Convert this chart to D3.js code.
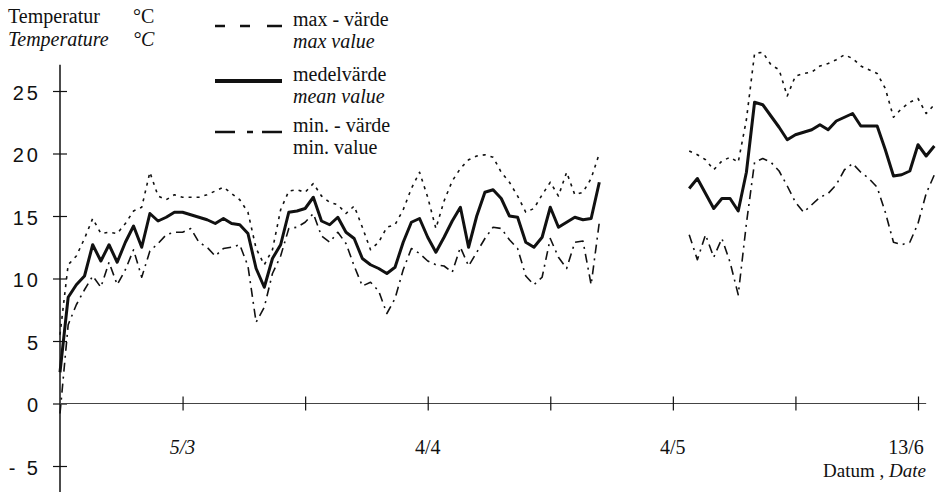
<!DOCTYPE html>
<html>
<head>
<meta charset="utf-8">
<script src="https://cdn.jsdelivr.net/npm/d3@7"></script>
<style>
  body { margin: 0; background: #fff; }
  svg { display: block; }
</style>
</head>
<body>
<svg id="chart" width="937" height="492"></svg>
<script>
// Daily air temperature, spring series. Day 0 is the first measuring day;
// null marks days without readings.
const maxValues = [
  5.5, 11.1, 11.8, 13.2, 14.8, 13.6, 13.7, 13.6, 14.4, 15.4,
  15.7, 18.5, 16.6, 16.3, 16.7, 16.5, 16.5, 16.5, 16.7, 17.0,
  17.3, 16.8, 16.3, 15.3, 12.4, 11.1, 12.3, 15.5, 17.0, 17.1,
  16.9, 17.6, 16.6, 16.1, 15.9, 15.2, 15.8, 14.1, 12.3, 12.9,
  14.1, 14.3, 15.5, 17.2, 18.5, 16.5, 14.0, 16.2, 17.8, 18.8,
  19.5, 19.8, 19.9, 19.7, 18.5, 17.7, 16.6, 15.3, 15.6, 16.7,
  17.7, 16.6, 18.5, 16.7, 16.9, 18.0, 20.0,
  null, null, null, null, null, null, null, null, null, null,
  20.2, 19.9, 19.5, 18.7, 19.4, 19.7, 19.3, 22.7, 28.0, 28.1,
  27.1, 26.7, 24.6, 26.2, 26.4, 26.5, 27.0, 27.2, 27.5, 27.9,
  27.6, 27.0, 26.7, 26.4, 25.2, 22.9, 23.6, 24.1, 24.4, 23.2,
  23.9
];

const meanValues = [
  2.5, 8.5, 9.5, 10.2, 12.7, 11.4, 12.7, 11.3, 12.9, 14.2,
  12.5, 15.2, 14.6, 14.9, 15.3, 15.3, 15.1, 14.9, 14.7, 14.4,
  14.8, 14.4, 14.3, 13.6, 10.8, 9.3, 11.6, 12.7, 15.3, 15.4,
  15.6, 16.5, 14.6, 14.3, 14.9, 13.7, 13.2, 11.6, 11.1, 10.8,
  10.4, 10.9, 12.9, 14.5, 14.8, 13.3, 12.1, 13.3, 14.6, 15.7,
  12.5, 15.0, 16.9, 17.1, 16.4, 15.0, 14.9, 12.9, 12.5, 13.3,
  15.7, 14.1, 14.5, 14.9, 14.7, 14.8, 17.7,
  null, null, null, null, null, null, null, null, null, null,
  17.2, 18.0, 16.8, 15.6, 16.4, 16.4, 15.4, 18.5, 24.1, 23.9,
  23.0, 22.1, 21.1, 21.5, 21.7, 21.9, 22.3, 21.9, 22.6, 22.9,
  23.2, 22.2, 22.2, 22.2, 20.3, 18.2, 18.3, 18.6, 20.7, 19.8,
  20.6
];

const minValues = [
  -0.8, 6.3, 7.9, 9.1, 10.2, 9.3, 11.3, 9.5, 10.7, 12.3,
  10.1, 12.2, 12.8, 13.5, 13.7, 13.7, 14.0, 12.9, 12.5, 11.8,
  12.4, 12.5, 12.7, 11.0, 6.5, 7.7, 10.4, 11.8, 14.0, 14.1,
  14.5, 15.2, 13.4, 12.9, 13.7, 12.8, 11.0, 9.4, 9.7, 9.0,
  7.2, 8.4, 10.7, 12.4, 12.0, 11.4, 11.1, 11.0, 10.5, 12.5,
  11.0, 12.1, 13.2, 14.1, 14.0, 13.1, 12.4, 10.2, 9.5, 10.1,
  13.2, 11.7, 10.8, 12.9, 13.0, 9.5, 14.5,
  null, null, null, null, null, null, null, null, null, null,
  13.5, 11.5, 13.5, 11.7, 13.2, 11.3, 8.7, 14.4, 19.3, 19.6,
  19.3, 18.6, 17.4, 16.1, 15.3, 15.9, 16.5, 16.8, 17.5, 18.7,
  19.2, 18.5, 18.0, 17.3, 15.3, 12.9, 12.7, 12.9, 14.4, 16.8,
  18.3
];

const dayTicks = [0, 15, 30, 45, 60, 75, 90, 105];
const dateLabels = [
  { day: 15, text: "5/3", italic: true },
  { day: 45, text: "4/4", italic: false },
  { day: 75, text: "4/5", italic: false },
  { day: 105, text: "13/6", italic: false }
];
const tempTicks = [-5, 0, 5, 10, 15, 20, 25];

const svg = d3.select("#chart");
const serif = "'Liberation Serif', 'Times New Roman', serif";
const sans = "'Liberation Sans', Arial, Helvetica, sans-serif";
const ink = "#111";

const x = d3.scaleLinear().domain([0, 105]).range([60, 918]);
const y = d3.scaleLinear().domain([-5, 25]).range([466, 91]);

// ---- axes -------------------------------------------------------------
// vertical axis: long spine with crossing ticks
svg.append("line")
  .attr("x1", x(0)).attr("x2", x(0))
  .attr("y1", y(27.1)).attr("y2", y(-7.2))
  .attr("stroke", ink).attr("stroke-width", 1.5);

const yAxis = svg.append("g")
  .attr("transform", `translate(${x(0)},0)`)
  .call(d3.axisLeft(y).tickValues(tempTicks).tickSize(7).tickSizeOuter(0)
    .tickFormat(d => d < 0 ? "- " + (-d) : String(d)));
yAxis.select(".domain").remove();
yAxis.selectAll(".tick line").attr("x1", 7).attr("stroke", ink).attr("stroke-width", 1.2);
yAxis.selectAll(".tick text")
  .attr("x", -19).attr("dy", "0.4em")
  .attr("fill", ink)
  .style("font-family", sans).style("font-size", "20px")
  .style("letter-spacing", "3px");

// horizontal axis along 0 °C
svg.append("line")
  .attr("x1", x(0)).attr("x2", x(106))
  .attr("y1", y(0)).attr("y2", y(0))
  .attr("stroke", "#444").attr("stroke-width", 1);

const xAxis = svg.append("g")
  .attr("transform", `translate(0,${y(0)})`)
  .call(d3.axisBottom(x).tickValues(dayTicks.slice(1)).tickSize(7).tickSizeOuter(0).tickFormat(""));
xAxis.select(".domain").remove();
xAxis.selectAll(".tick line").attr("y1", -7).attr("stroke", ink).attr("stroke-width", 1.2);

svg.selectAll("text.date")
  .data(dateLabels)
  .join("text")
  .attr("class", "date")
  .attr("x", d => d.day === 105 ? x(d.day) - 12 : x(d.day))
  .attr("y", 454)
  .attr("text-anchor", "middle")
  .attr("fill", ink)
  .style("font-family", serif).style("font-size", "20px")
  .style("font-style", d => d.italic ? "italic" : "normal")
  .text(d => d.text);

const dateTitle = svg.append("text")
  .attr("x", 926).attr("y", 477).attr("text-anchor", "end")
  .attr("fill", ink)
  .style("font-family", serif).style("font-size", "19px");
dateTitle.append("tspan").text("Datum , ");
dateTitle.append("tspan").style("font-style", "italic").text("Date");

// ---- axis title -------------------------------------------------------
const title = [
  { label: "Temperatur", unit: "°C", italic: false, y: 23 },
  { label: "Temperature", unit: "°C", italic: true, y: 46 }
];
title.forEach(t => {
  svg.append("text").attr("x", 8).attr("y", t.y).attr("fill", ink)
    .style("font-family", serif).style("font-size", "20px")
    .style("font-style", t.italic ? "italic" : "normal").text(t.label);
  svg.append("text").attr("x", 133).attr("y", t.y).attr("fill", ink)
    .style("font-family", serif).style("font-size", "20px")
    .style("font-style", t.italic ? "italic" : "normal").text(t.unit);
});

// ---- series -----------------------------------------------------------
const series = [
  { key: "max", values: maxValues, width: 1.6, dash: "3,5",
    legendDash: "10,15,10,17,15", legendWidth: 2.4, sv: "max - värde", en: "max value", enItalic: true, ly: 26 },
  { key: "mean", values: meanValues, width: 3, dash: null,
    legendDash: null, legendWidth: 4, sv: "medelvärde", en: "mean value", enItalic: true, ly: 81 },
  { key: "min", values: minValues, width: 1.6, dash: "9,5,2,5",
    legendDash: "20,12,6,9,20", legendWidth: 2.4, sv: "min. - värde", en: "min. value", enItalic: false, ly: 132 }
];

const line = d3.line()
  .defined(d => d.v !== null)
  .x(d => x(d.day))
  .y(d => y(d.v));

series.forEach(s => {
  const pts = s.values.map((v, i) => ({ day: i, v }));
  svg.append("path")
    .datum(pts)
    .attr("d", line)
    .attr("fill", "none")
    .attr("stroke", ink)
    .attr("stroke-width", s.width)
    .attr("stroke-linejoin", "round")
    .attr("stroke-dasharray", s.dash);

  // legend entry
  svg.append("line")
    .attr("x1", 215).attr("x2", 282)
    .attr("y1", s.ly).attr("y2", s.ly)
    .attr("stroke", ink).attr("stroke-width", s.legendWidth)
    .attr("stroke-dasharray", s.legendDash);
  svg.append("text").attr("x", 293).attr("y", s.ly - 0.5).attr("fill", ink)
    .style("font-family", serif).style("font-size", "20px").text(s.sv);
  svg.append("text").attr("x", 293).attr("y", s.ly + 21.5).attr("fill", ink)
    .style("font-family", serif).style("font-size", "20px")
    .style("font-style", s.enItalic ? "italic" : "normal").text(s.en);
});
</script>
</body>
</html>
